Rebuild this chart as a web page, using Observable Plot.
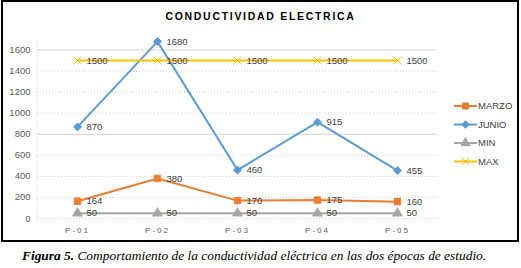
<!DOCTYPE html>
<html>
<head>
<meta charset="utf-8">
<script src="https://cdn.jsdelivr.net/npm/d3@7"></script>
<script src="https://cdn.jsdelivr.net/npm/@observablehq/plot@0.6"></script>
<style>
  body { margin: 0; background: #fff; width: 521px; height: 268px; position: relative; overflow: hidden; }
  #chart { position: absolute; left: 0; top: 0; }
  #box { position: absolute; left: 1px; top: 0px; width: 518px; height: 242px; box-sizing: border-box; border: 2px solid #000; pointer-events: none; }
  #title { position: absolute; left: 0; width: 521px; top: 10px; text-align: center; font: bold 10.5px "Liberation Sans", Arial, sans-serif; letter-spacing: 1.7px; color: #000; }
  #caption { position: absolute; left: 22px; top: 248px; font: italic 13.4px "Liberation Serif", "Times New Roman", serif; color: #000; white-space: nowrap; }
</style>
</head>
<body>
<div id="chart"></div>
<div id="title">CONDUCTIVIDAD ELECTRICA</div>
<div id="box"></div>
<div id="caption"><b>Figura 5.</b> Comportamiento de la conductividad eléctrica en las dos épocas de estudio.</div>
<script>
const categories = ["P-01", "P-02", "P-03", "P-04", "P-05"];
const seriesNames = ["MARZO", "JUNIO", "MIN", "MAX"];
const marzo = [164, 380, 170, 175, 160];
const junio = [870, 1680, 460, 915, 455];
const minV = [50, 50, 50, 50, 50];
const maxV = [1500, 1500, 1500, 1500, 1500];
const yTicks = [0, 200, 400, 600, 800, 1000, 1200, 1400, 1600];
const solidGrid = [800, 1600];

const colors = {MARZO: "#ED7D31", JUNIO: "#5B9BD5", MIN: "#A5A5A5", MAX: "#FFC000"};
const symbols = {MARZO: "square", JUNIO: "diamond2", MIN: "triangle", MAX: "times"};
const valuesBySeries = {MARZO: marzo, JUNIO: junio, MIN: minV, MAX: maxV};

const rows = [];
for (const s of seriesNames) {
  categories.forEach((c, i) => rows.push({cat: c, series: s, value: valuesBySeries[s][i]}));
}
const dotted = yTicks.filter(t => !solidGrid.includes(t));

const plot = Plot.plot({
  width: 521,
  height: 242,
  marginLeft: 37,
  marginRight: 84,
  marginTop: 39,
  marginBottom: 24,
  style: {fontFamily: "'Liberation Sans', Arial, sans-serif", background: "transparent"},
  x: {type: "point", domain: categories, padding: 0.5, axis: null, label: null},
  y: {domain: [0, 1700], axis: null, label: null},
  color: {domain: seriesNames, range: seriesNames.map(s => colors[s])},
  symbol: {domain: seriesNames, range: seriesNames.map(s => symbols[s])},
  marks: [
    Plot.ruleY(dotted, {stroke: "#c9c9d6", strokeWidth: 1, strokeDasharray: "1,2"}),
    Plot.ruleY(solidGrid, {stroke: "#d4d4d4", strokeWidth: 1}),
    Plot.axisY(yTicks, {tickSize: 0, tickPadding: 7, fontSize: 9.5, color: "#595959", label: null, tickFormat: d => String(d)}),
    Plot.axisX({tickSize: 0, tickPadding: 9, fontSize: 8, color: "#595959", label: null}),
    Plot.line(rows, {x: "cat", y: "value", z: "series", stroke: d => colors[d.series], strokeWidth: 2}),
    Plot.dot(rows, {x: "cat", y: "value", symbol: "series", fill: d => colors[d.series], stroke: d => colors[d.series], strokeWidth: 1, r: 3.6}),
    Plot.text(rows, {x: "cat", y: "value", text: d => String(d.value), dx: 9, textAnchor: "start", fontSize: 9.5, fill: "#404040"})
  ]
});

document.getElementById("chart").appendChild(plot);

const svg = d3.select(plot);
// x axis letter spacing
svg.selectAll("g[aria-label='x-axis tick label'] text").style("letter-spacing", "2px");
// y axis line (dotted)
const yScale = plot.scale("y");
svg.append("line")
  .attr("x1", 37).attr("x2", 37)
  .attr("y1", yScale.apply(0)).attr("y2", 39)
  .attr("stroke", "#c9c9d6").attr("stroke-dasharray", "1,2");

// legend
const d3sym = {square: d3.symbolSquare, diamond2: d3.symbolDiamond2, triangle: d3.symbolTriangle, times: d3.symbolTimes};
const legend = svg.append("g").attr("font-size", 9.5).attr("fill", "#404040").attr("text-anchor", "start");
seriesNames.forEach((s, i) => {
  const y = 106 + i * 18.5;
  const g = legend.append("g").attr("transform", `translate(0,${y})`);
  g.append("line").attr("x1", 454).attr("x2", 477).attr("y1", 0).attr("y2", 0)
    .attr("stroke", colors[s]).attr("stroke-width", 2);
  g.append("path").attr("transform", "translate(465.5,0)")
    .attr("d", d3.symbol(d3sym[symbols[s]], 36)())
    .attr("fill", colors[s]).attr("stroke", colors[s]);
  g.append("text").attr("x", 478).attr("y", 0).attr("dy", "0.35em").attr("text-anchor", "start").text(s);
});
</script>
</body>
</html>
